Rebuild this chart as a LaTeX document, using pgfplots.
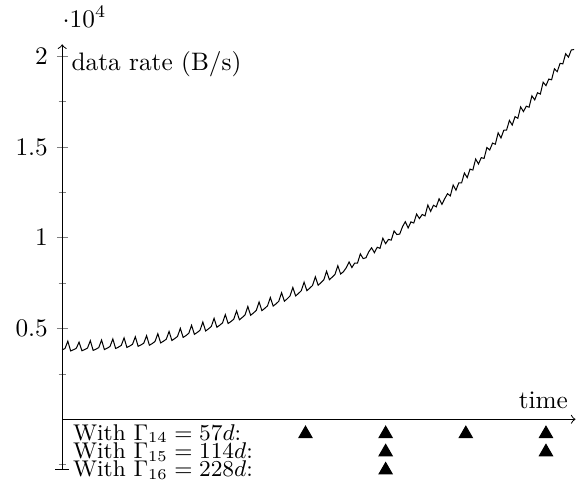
\documentclass[border=0pt]{standalone}
\usepackage{pgfplots}
\pgfplotsset{compat=1.18}
\usepackage{pgfplotstable}

% measured rate, one sample every 2 days
\pgfplotstableread{
t v
0 3820
2 3900
4 4305
6 3765
8 3830
10 3910
12 4250
14 3775
16 3840
18 3925
20 4330
22 3795
24 3860
26 3950
28 4365
30 3840
32 3915
34 4010
36 4425
38 3900
40 3975
42 4070
44 4485
46 3960
48 4035
50 4130
52 4545
54 4020
56 4095
58 4190
60 4605
62 4080
64 4170
66 4285
68 4715
70 4205
72 4300
74 4410
76 4840
78 4340
80 4445
82 4565
84 5010
86 4510
88 4610
90 4735
92 5175
94 4680
96 4780
98 4905
100 5355
102 4865
104 4980
106 5110
108 5560
110 5070
112 5180
114 5310
116 5765
118 5275
120 5385
122 5515
124 5970
126 5480
128 5605
130 5745
132 6210
134 5730
136 5855
138 5995
140 6460
142 5985
144 6105
146 6250
148 6710
150 6235
152 6355
154 6500
156 6970
158 6505
160 6635
162 6790
164 7260
166 6795
168 6930
170 7080
172 7555
174 7085
176 7220
178 7370
180 7845
182 7385
184 7520
186 7675
188 8155
190 7690
192 7830
194 7985
196 8460
198 8000
200 8130
202 8348
204 8665
206 8358
208 8606
210 8607
212 9110
214 8851
216 8897
218 9225
220 9447
222 9175
224 9475
226 9416
228 9973
230 9672
232 9904
234 9868
236 10373
238 10176
240 10200
242 10608
244 10885
246 10537
248 10873
250 10807
252 11303
254 11055
256 11279
258 11205
260 11798
262 11452
264 11785
266 11700
268 12143
270 11837
272 12150
274 12425
276 12302
278 12900
280 12620
282 13018
284 13017
286 13563
288 13310
290 13778
292 13725
294 14333
296 14062
298 14410
300 14367
302 14970
304 14830
306 15210
308 15148
310 15775
312 15492
314 15918
316 15930
318 16458
320 16205
322 16668
324 16577
326 17203
328 16945
330 17245
332 17187
334 17813
336 17592
338 17985
340 17910
342 18565
344 18375
346 18738
348 18697
350 19300
352 19142
354 19603
356 19575
358 20133
360 19942
362 20338
364 20367
}\ratetable

\begin{document}
\begin{tikzpicture}
\begin{axis}[
  scale only axis,
  width=203pt, height=168.4pt,
  xmin=0, xmax=365,
  ymin=-2800, ymax=20650,
  axis x line=middle,
  axis y line=left,
  x axis line style={->},
  y axis line style={|->},
  xtick={0}, xticklabels={},
  ytick={5000,10000,15000,20000},
  minor ytick={-2500,2500,7500,12500,17500},
  tick align=center,
  every y tick scale label/.style={at={(rel axis cs:0,1)}, anchor=south west,
    yshift=4pt, inner xsep=0pt, inner ysep=2.6pt},
  clip=false,
]
\addplot[black, mark=none] table[x=t, y=v] {\ratetable};

\addplot[only marks, mark=triangle*, mark size=3pt, black]
  coordinates {(173,-800) (230,-800) (287,-800) (344,-800)};
\addplot[only marks, mark=triangle*, mark size=3pt, black]
  coordinates {(230,-1800) (344,-1800)};
\addplot[only marks, mark=triangle*, mark size=3pt, black]
  coordinates {(230,-2800)};

\node[anchor=north west, inner sep=0pt, xshift=3.5pt, yshift=-2.8pt] at (rel axis cs:0,1) {data rate (B/s)};
\node[anchor=south east, inner sep=0pt, xshift=-2.8pt, yshift=4pt] at (axis cs:365,0) {time};
\node[anchor=west, inner sep=0pt, font=\small] at (axis cs:7.4,-800) {With $\Gamma_{14} = 57d$:};
\node[anchor=west, inner sep=0pt, font=\small] at (axis cs:7.4,-1800) {With $\Gamma_{15} = 114d$:};
\node[anchor=west, inner sep=0pt, font=\small] at (axis cs:7.4,-2800) {With $\Gamma_{16} = 228d$:};

% left and bottom margins as in the original picture
\path (rel axis cs:0,0) ++(-24.6pt,-5.5pt);
\end{axis}
\end{tikzpicture}
\end{document}
